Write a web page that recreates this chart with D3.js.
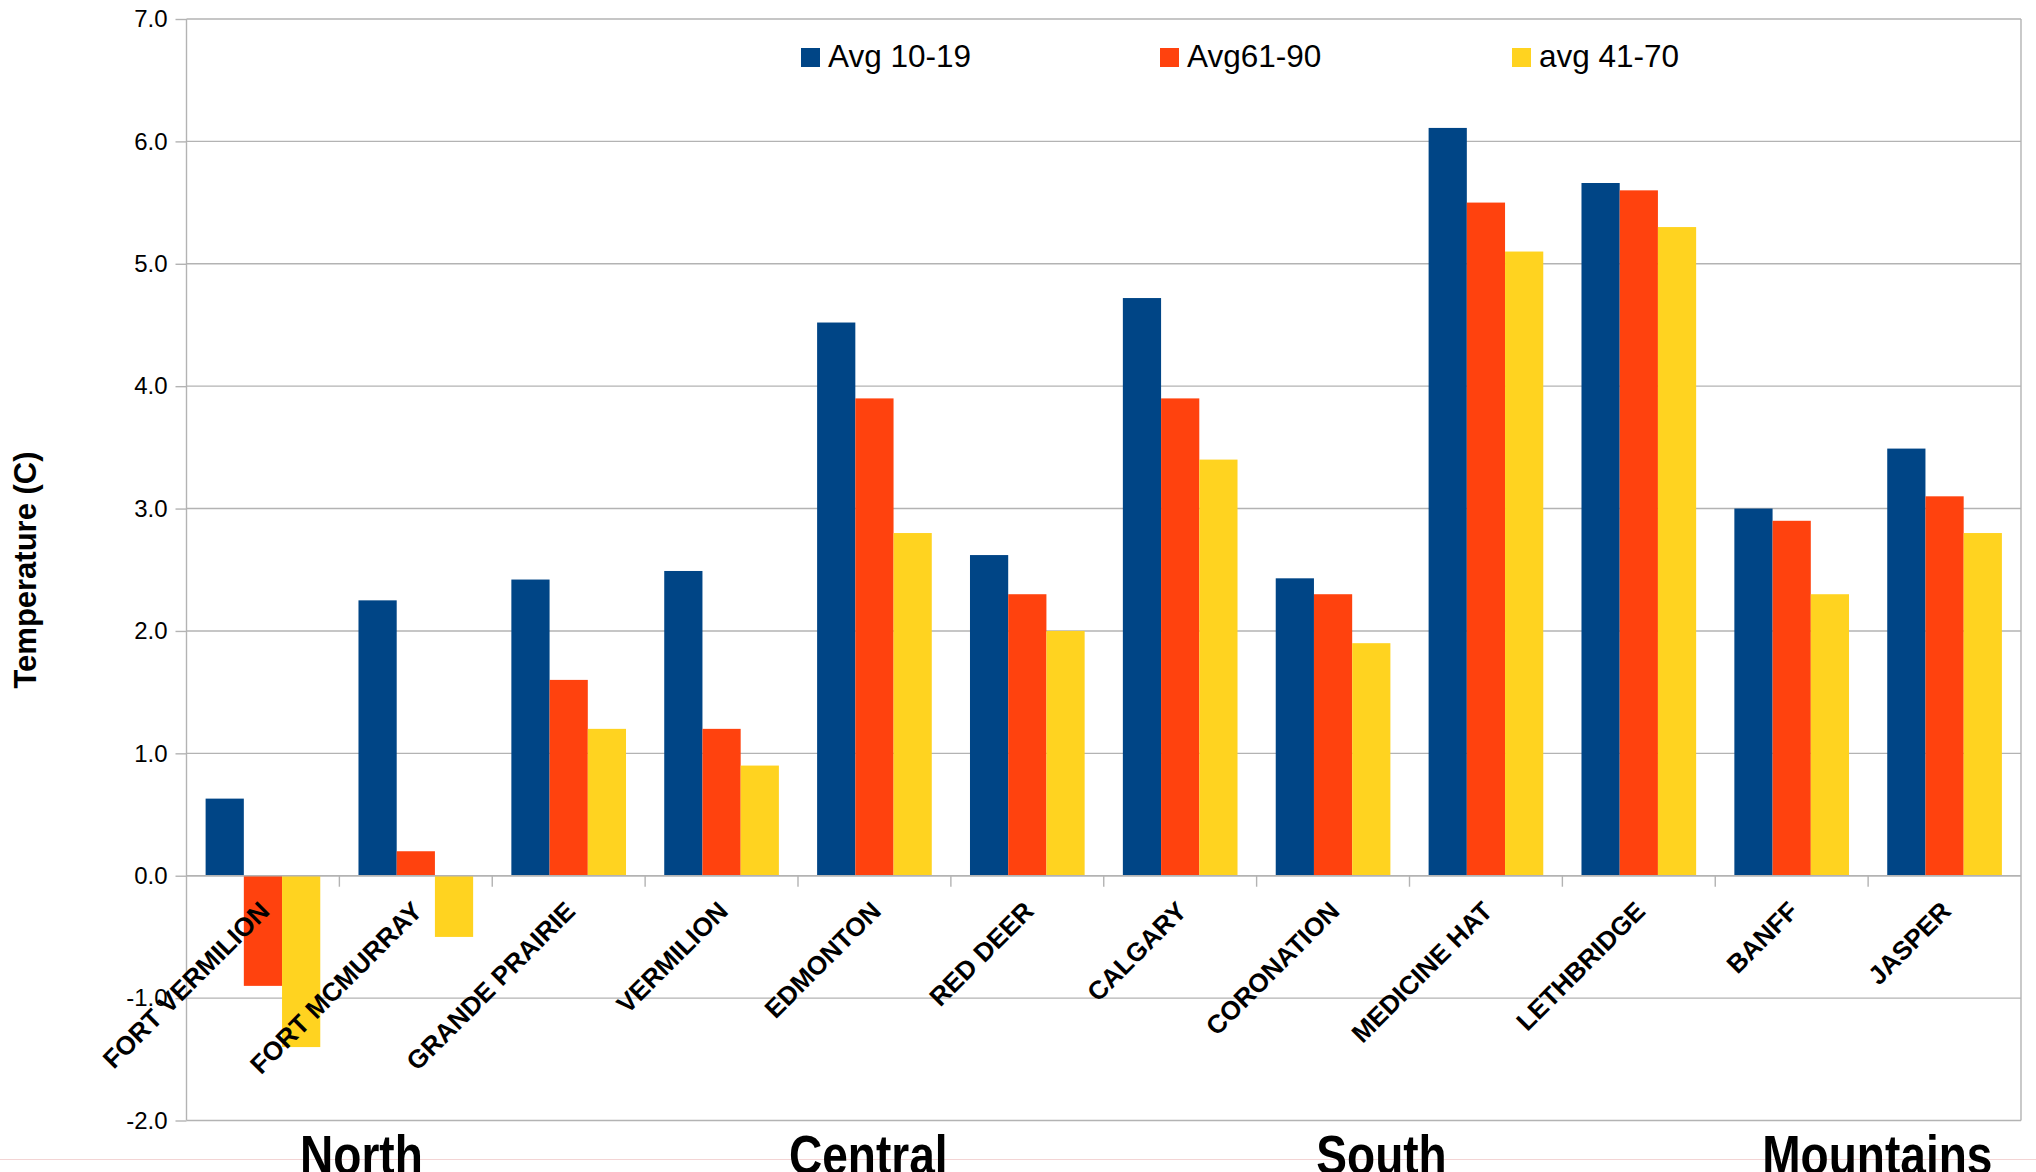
<!DOCTYPE html>
<html>
<head>
<meta charset="utf-8">
<script src="https://cdn.jsdelivr.net/npm/d3@7"></script>
<style>
  html, body { margin: 0; padding: 0; background: #ffffff; }
  svg { display: block; font-family: "Liberation Sans", Arial, sans-serif; }
</style>
</head>
<body>
<svg id="chart" width="2036" height="1172"></svg>
<script>
// Weather stations, ordered by region
const stations = ["FORT VERMILION", "FORT MCMURRAY", "GRANDE PRAIRIE", "VERMILION",
  "EDMONTON", "RED DEER", "CALGARY", "CORONATION",
  "MEDICINE HAT", "LETHBRIDGE", "BANFF", "JASPER"];

// Series names (legend text)
const seriesNames = ["Avg 10-19", "Avg61-90", "avg 41-70"];

// Mean annual temperature (°C) per station, one array per period
const avg1019 = [0.63, 2.25, 2.42, 2.49, 4.52, 2.62, 4.72, 2.43, 6.11, 5.66, 3.00, 3.49];
const avg6190 = [-0.90, 0.20, 1.60, 1.20, 3.90, 2.30, 3.90, 2.30, 5.50, 5.60, 2.90, 3.10];
const avg4170 = [-1.40, -0.50, 1.20, 0.90, 2.80, 2.00, 3.40, 1.90, 5.10, 5.30, 2.30, 2.80];

// Y axis ticks
const yTicks = [-2, -1, 0, 1, 2, 3, 4, 5, 6, 7];

// Region captions under the axis
const regionNames = ["North", "Central", "South", "Mountains"];

// ---- layout and styling ----
const seriesColors = ["#004586", "#ff420e", "#ffd320"];
const regionSlot = [1.144, 4.46, 7.817, 11.06];   // caption centres, in category widths from the left edge
const plot = { left: 186.5, right: 2021, top: 19, bottom: 1120.5 };
const gridColor = "#b3b3b3";

const seriesValues = [avg1019, avg6190, avg4170];
const rows = stations.map((name, i) => ({
  name,
  values: seriesValues.map((arr, s) => ({ key: seriesNames[s], s, v: arr[i] }))
}));

const svg = d3.select("#chart");

// Faint page rule near the bottom edge (behind everything)
svg.append("line")
  .attr("x1", 0).attr("x2", 2036)
  .attr("y1", 1159.5).attr("y2", 1159.5)
  .attr("stroke", "#f3d4d4").attr("stroke-width", 1);

const x = d3.scaleBand().domain(stations).range([plot.left, plot.right]).paddingInner(0).paddingOuter(0);
const bw = x.bandwidth();
const xs = d3.scaleBand().domain(seriesNames).range([bw * 0.125, bw * 0.875]).padding(0);
const y = d3.scaleLinear().domain([-2, 7]).range([plot.bottom, plot.top]);

// Horizontal grid lines
svg.append("g")
  .selectAll("line")
  .data(yTicks)
  .join("line")
  .attr("x1", plot.left).attr("x2", plot.right)
  .attr("y1", d => y(d)).attr("y2", d => y(d))
  .attr("stroke", gridColor).attr("stroke-width", 1.4);

// Frame: left axis and right border
svg.append("line")
  .attr("x1", plot.left).attr("x2", plot.left)
  .attr("y1", plot.top).attr("y2", plot.bottom)
  .attr("stroke", gridColor).attr("stroke-width", 1.4);
svg.append("line")
  .attr("x1", plot.right).attr("x2", plot.right)
  .attr("y1", plot.top).attr("y2", plot.bottom)
  .attr("stroke", gridColor).attr("stroke-width", 1.4);

// Y axis with outward ticks (plain hyphen for negatives)
const yAxis = d3.axisLeft(y)
  .tickValues(yTicks)
  .tickFormat(d => d.toFixed(1))
  .tickSize(11)
  .tickPadding(8);
const yAxisG = svg.append("g")
  .attr("transform", `translate(${plot.left},0)`)
  .call(yAxis);
yAxisG.select(".domain").remove();
yAxisG.selectAll(".tick line").attr("stroke", gridColor).attr("stroke-width", 1.4);
yAxisG.selectAll(".tick text")
  .attr("fill", "#000")
  .style("font-size", "24px")
  .style("font-family", "'Liberation Sans', Arial, sans-serif");

// Bars
const groups = svg.append("g")
  .selectAll("g")
  .data(rows)
  .join("g")
  .attr("transform", d => `translate(${x(d.name)},0)`);

groups.selectAll("rect")
  .data(d => d.values)
  .join("rect")
  .attr("x", d => xs(d.key))
  .attr("width", xs.bandwidth())
  .attr("y", d => y(Math.max(0, d.v)))
  .attr("height", d => Math.abs(y(d.v) - y(0)))
  .attr("fill", d => seriesColors[d.s]);

// Category axis along zero, ticks at category boundaries
const y0 = y(0);
svg.append("g")
  .selectAll("line")
  .data(stations.slice(1))
  .join("line")
  .attr("x1", d => x(d)).attr("x2", d => x(d))
  .attr("y1", y0).attr("y2", y0 + 11)
  .attr("stroke", gridColor).attr("stroke-width", 1.4);
svg.append("line")
  .attr("x1", plot.left).attr("x2", plot.right)
  .attr("y1", y0).attr("y2", y0)
  .attr("stroke", gridColor).attr("stroke-width", 1.4);

// Rotated station labels
svg.append("g")
  .selectAll("text")
  .data(stations)
  .join("text")
  .attr("transform", d => `translate(${x(d) + bw / 2 + 8},${y0 + 37}) rotate(-45)`)
  .attr("text-anchor", "end")
  .attr("fill", "#000")
  .style("font-size", "26px")
  .style("font-weight", "bold")
  .text(d => d);

// Region captions (tall bold type running into the bottom edge)
svg.append("g")
  .selectAll("text")
  .data(regionNames)
  .join("text")
  .attr("transform", (d, i) => `translate(${plot.left + regionSlot[i] * bw},1174) scale(0.98,1.2)`)
  .attr("text-anchor", "middle")
  .attr("fill", "#000")
  .style("font-size", "47px")
  .style("font-weight", "bold")
  .text(d => d);

// Y axis title
svg.append("text")
  .attr("transform", "translate(36,570) rotate(-90)")
  .attr("text-anchor", "middle")
  .attr("fill", "#000")
  .style("font-size", "31px")
  .style("font-weight", "bold")
  .text("Temperature (C)");

// Legend
const legendX = [801, 1160, 1512];
const legend = svg.append("g")
  .selectAll("g")
  .data(seriesNames)
  .join("g")
  .attr("transform", (d, i) => `translate(${legendX[i]},48)`);
legend.append("rect")
  .attr("width", 19).attr("height", 19)
  .attr("fill", (d, i) => seriesColors[i]);
legend.append("text")
  .attr("x", 27).attr("y", 19)
  .attr("fill", "#000")
  .style("font-size", "31.5px")
  .text(d => d);
</script>
</body>
</html>
